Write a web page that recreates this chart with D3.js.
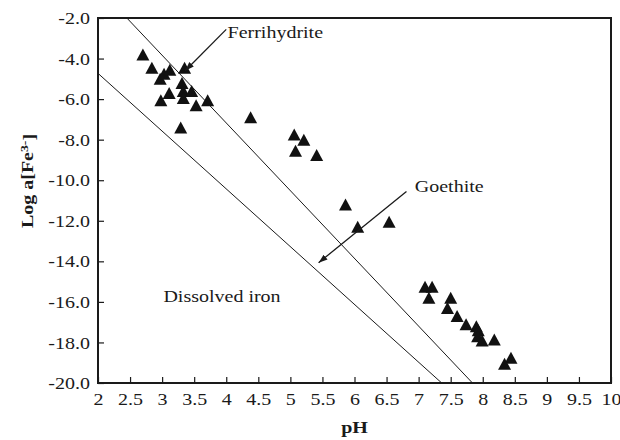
<!DOCTYPE html>
<html>
<head>
<meta charset="utf-8">
<script src="https://cdn.jsdelivr.net/npm/d3@7"></script>
<style>
  body { margin: 0; background: #fff; }
  svg text { font-family: "Liberation Serif", "Times New Roman", serif; fill: #1a1a1a; }
</style>
</head>
<body>
<div id="chart"></div>
<script>
const WIDTH = 620
const HEIGHT = 440
const MARGIN = { top: 18, right: 9, bottom: 57, left: 98 }
const FONT_SIZE = 16
const STRETCH = 1.25   // text in the figure is drawn wide
const TRI_W = 13
const TRI_H = 12

// measured samples
const PH = [2.70, 2.84, 2.97, 3.03, 3.12, 3.35, 3.31, 3.33, 3.11, 2.98, 3.33, 3.46, 3.53, 3.71, 3.29,
  4.38, 5.06, 5.21, 5.08, 5.41, 5.86, 6.05, 6.54,
  7.10, 7.21, 7.16, 7.50, 7.45, 7.60, 7.74, 7.90, 7.93, 7.92, 7.99, 8.18, 8.44, 8.34]
const LOG_FE = [-3.8, -4.45, -5.0, -4.75, -4.55, -4.45, -5.2, -5.6, -5.7, -6.05, -5.95, -5.6, -6.3, -6.05, -7.4,
  -6.9, -7.75, -8.0, -8.55, -8.75, -11.2, -12.3, -12.05,
  -15.25, -15.25, -15.8, -15.8, -16.3, -16.7, -17.1, -17.2, -17.4, -17.7, -17.9, -17.85, -18.75, -19.05]

// solubility lines (pH, log a)
const FERRIHYDRITE_PH = [2.45, 7.84]
const FERRIHYDRITE_LOG = [-2, -20]
const GOETHITE_PH = [2, 7.36]
const GOETHITE_LOG = [-4.73, -20]

const X_TICKS = [2, 2.5, 3, 3.5, 4, 4.5, 5, 5.5, 6, 6.5, 7, 7.5, 8, 8.5, 9, 9.5, 10]
const Y_TICKS = [-2, -4, -6, -8, -10, -12, -14, -16, -18, -20]

const X_SCALE = d3.scaleLinear().domain([2, 10]).range([MARGIN.left, WIDTH - MARGIN.right])
const Y_SCALE = d3.scaleLinear().domain([-20, -2]).range([HEIGHT - MARGIN.bottom, MARGIN.top])

const SVG = d3.select('#chart').append('svg')
  .attr('width', WIDTH)
  .attr('height', HEIGHT)

SVG.append('defs').append('marker')
  .attr('id', 'arrow')
  .attr('viewBox', '0 0 10 10')
  .attr('refX', 10).attr('refY', 5)
  .attr('markerWidth', 9).attr('markerHeight', 9)
  .attr('markerUnits', 'userSpaceOnUse')
  .attr('orient', 'auto')
  .append('path')
  .attr('d', 'M0,1.5 L10,5 L0,8.5 Z')
  .attr('fill', '#1a1a1a')

// axes (ticks pointing inward)
const X_AXIS = SVG.append('g')
  .attr('transform', `translate(0, ${HEIGHT - MARGIN.bottom})`)
  .call(d3.axisBottom(X_SCALE).tickValues(X_TICKS).tickSize(-6).tickFormat(d => String(d)))
X_AXIS.selectAll('text')
  .attr('y', 0).attr('dy', 0)
  .attr('transform', `translate(0, 22) scale(${STRETCH}, 1)`)
  .style('font-size', `${FONT_SIZE}px`)

const Y_AXIS = SVG.append('g')
  .attr('transform', `translate(${MARGIN.left}, 0)`)
  .call(d3.axisLeft(Y_SCALE).tickValues(Y_TICKS).tickSize(-6).tickFormat(d => d.toFixed(1)))
Y_AXIS.selectAll('text')
  .attr('x', 0).attr('dy', '0.35em')
  .attr('transform', `translate(-8, 0) scale(${STRETCH}, 1)`)
  .style('font-size', `${FONT_SIZE}px`)

SVG.selectAll('.domain').remove()
SVG.selectAll('.tick line').attr('stroke', '#1a1a1a').attr('stroke-width', 1.2)

// frame
SVG.append('rect')
  .attr('x', MARGIN.left).attr('y', MARGIN.top)
  .attr('width', WIDTH - MARGIN.left - MARGIN.right)
  .attr('height', HEIGHT - MARGIN.top - MARGIN.bottom)
  .attr('fill', 'none').attr('stroke', '#1a1a1a').attr('stroke-width', 2)

// solubility lines
const LINES = [
  FERRIHYDRITE_PH.map((p, i) => [p, FERRIHYDRITE_LOG[i]]),
  GOETHITE_PH.map((p, i) => [p, GOETHITE_LOG[i]])
]
SVG.selectAll('.sol-line')
  .data(LINES)
  .enter()
  .append('path')
  .attr('class', 'sol-line')
  .attr('d', d3.line().x(d => X_SCALE(d[0])).y(d => Y_SCALE(d[1])))
  .attr('fill', 'none')
  .attr('stroke', '#1a1a1a')
  .attr('stroke-width', 1)

// samples
const triangle = `M0,${-TRI_H / 2} L${TRI_W / 2},${TRI_H / 2} L${-TRI_W / 2},${TRI_H / 2} Z`
SVG.selectAll('.sample')
  .data(PH.map((p, i) => [p, LOG_FE[i]]))
  .enter()
  .append('path')
  .attr('class', 'sample')
  .attr('d', triangle)
  .attr('transform', d => `translate(${X_SCALE(d[0])}, ${Y_SCALE(d[1])})`)
  .attr('fill', '#111')

// annotations
const ARROWS = [
  { from: [4.0, -2.56], to: [3.36, -4.6] },
  { from: [6.81, -10.56], to: [5.44, -14.07] }
]
SVG.selectAll('.arrow')
  .data(ARROWS)
  .enter()
  .append('line')
  .attr('x1', d => X_SCALE(d.from[0])).attr('y1', d => Y_SCALE(d.from[1]))
  .attr('x2', d => X_SCALE(d.to[0])).attr('y2', d => Y_SCALE(d.to[1]))
  .attr('stroke', '#1a1a1a')
  .attr('stroke-width', 1.3)
  .attr('marker-end', 'url(#arrow)')

const LABELS = [
  { text: 'Ferrihydrite', at: [4.02, -2.99] },
  { text: 'Goethite', at: [6.94, -10.56] },
  { text: 'Dissolved iron', at: [3.02, -16.0] }
]
SVG.selectAll('.label')
  .data(LABELS)
  .enter()
  .append('text')
  .attr('transform', d => `translate(${X_SCALE(d.at[0])}, ${Y_SCALE(d.at[1])}) scale(${STRETCH}, 1)`)
  .style('font-size', `${FONT_SIZE}px`)
  .text(d => d.text)

// axis titles
SVG.append('text')
  .attr('transform', `translate(${(MARGIN.left + WIDTH - MARGIN.right) / 2}, 433) scale(${STRETCH}, 1)`)
  .attr('text-anchor', 'middle')
  .style('font-size', `${FONT_SIZE}px`)
  .style('font-weight', 'bold')
  .text('pH')

const Y_TITLE = SVG.append('text')
  .attr('transform', `translate(33, 181) rotate(-90) scale(${STRETCH}, 1)`)
  .attr('text-anchor', 'middle')
  .style('font-size', `${FONT_SIZE}px`)
  .style('font-weight', 'bold')
Y_TITLE.append('tspan').text('Log a[Fe')
Y_TITLE.append('tspan').attr('dy', '-0.45em').style('font-size', '11px').text('3-')
Y_TITLE.append('tspan').attr('dy', '0.45em').text(']')
</script>
</body>
</html>
